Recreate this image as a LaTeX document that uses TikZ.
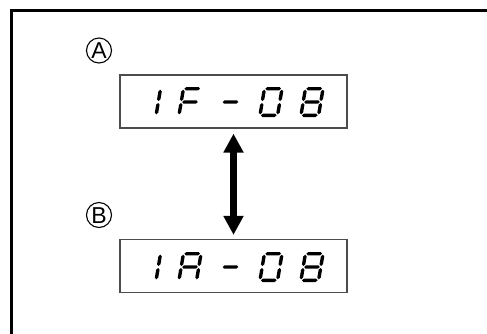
\documentclass[tikz,border=0pt]{standalone}
\usepackage{fontspec}
\setmainfont{Liberation Sans}
\usetikzlibrary{arrows.meta}
\newcommand\lcdst{1.7}
\newcommand\lcdh[3]{\fill (#1,#3) -- (#1+\lcdst,#3+\lcdst) -- (#2-\lcdst,#3+\lcdst) -- (#2,#3) -- (#2-\lcdst,#3-\lcdst) -- (#1+\lcdst,#3-\lcdst) -- cycle;}
\newcommand\lcdv[3]{\fill (#1,#2) -- (#1+\lcdst,#2+\lcdst) -- (#1+\lcdst,#3-\lcdst) -- (#1,#3) -- (#1-\lcdst,#3-\lcdst) -- (#1-\lcdst,#2+\lcdst) -- cycle;}
\newcommand\lcdsega{\lcdh{2.7}{18.3}{28.3}}
\newcommand\lcdsegb{\lcdv{19.3}{16}{27.3}}
\newcommand\lcdsegc{\lcdv{19.3}{2.7}{14}}
\newcommand\lcdsegd{\lcdh{2.7}{18.3}{1.7}}
\newcommand\lcdsege{\lcdv{1.7}{2.7}{14}}
\newcommand\lcdsegf{\lcdv{1.7}{16}{27.3}}
\newcommand\lcdsegg{\lcdh{2.7}{18.3}{15}}
\newcommand\lcddigit[3]{%
  \begin{scope}[shift={(#1,#2)},x=1pt,y=1pt,xslant=0.1667]
    \foreach \s in {#3} {\csname lcdseg\s\endcsname}
  \end{scope}}
\tikzset{
  dispbox/.style={draw=black!70, line width=1.2pt, minimum width=227pt, minimum height=53pt, inner sep=0pt},
  circlab/.style={circle, draw, line width=1.1pt, minimum size=25pt, inner sep=0pt, text height=16.5pt, text depth=0pt, font=\fontsize{23}{23}\selectfont},
  dblarrow/.style={line width=7pt, {Triangle[width=19pt,length=19pt]}-{Triangle[width=19pt,length=19pt]}},
  framestyle/.style={line width=3pt}
}
\begin{document}
\begin{tikzpicture}[x=1pt,y=-1pt]
\clip (0,0) rectangle (487,333);
\fill[white] (0,0) rectangle (487,333);
\draw[framestyle] (11.5,345) -- (11.5,10.8) -- (500,10.8);
\node[circlab] (la) at (99,50.5) {A};
\node[circlab] (lb) at (99,215) {B};
\node[dispbox] (dA) at (233.5,101.5) {};
\node[dispbox] (dB) at (233.5,266) {};
% display A: 1F-08
\lcddigit{136.5}{117}{b,c}
\lcddigit{177}{117}{a,e,f,g}
\lcddigit{217.5}{117}{g}
\lcddigit{258}{117}{a,b,c,d,e,f}
\lcddigit{299}{117}{a,b,c,d,e,f,g}
% display B: 1A-08
\lcddigit{136.5}{282}{b,c}
\lcddigit{177}{282}{a,b,c,e,f,g}
\lcddigit{217.5}{282}{g}
\lcddigit{258}{282}{a,b,c,d,e,f}
\lcddigit{299}{282}{a,b,c,d,e,f,g}
\draw[dblarrow, shorten <=5pt, shorten >=4pt] (dA.south) -- (dB.north);
\end{tikzpicture}
\end{document}
